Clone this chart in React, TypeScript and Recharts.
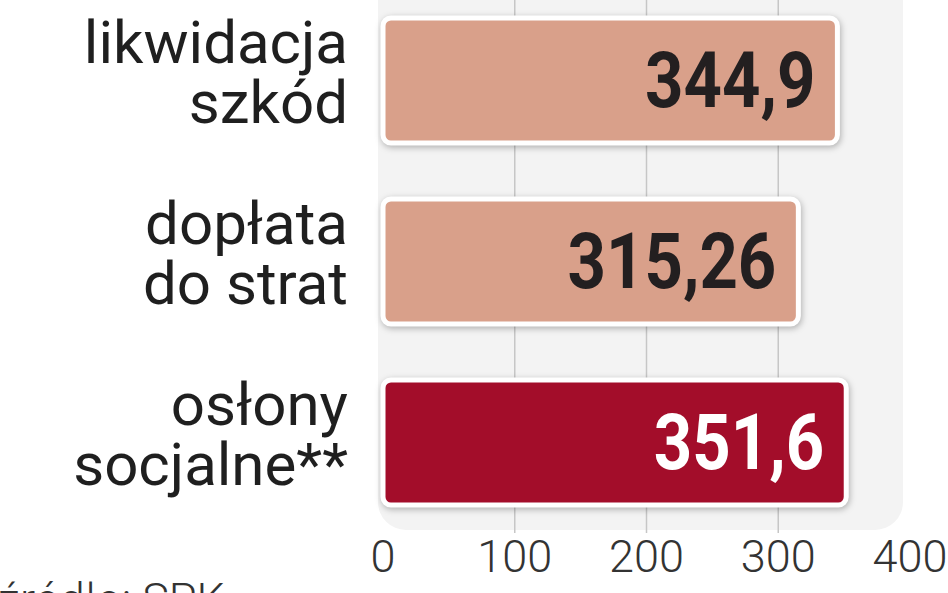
import React from 'react';
import { BarChart, Bar, XAxis, YAxis, CartesianGrid, Cell, LabelList, Rectangle } from 'recharts';

const categories = ['likwidacja|szkód', 'dopłata|do strat', 'osłony|socjalne**'];
const values = [344.9, 315.26, 351.6];
const valueLabels = ['344,9', '315,26', '351,6'];
const barColors = ['#d9a08a', '#d9a08a', '#a30d2a'];
const labelColors = ['#231f20', '#231f20', '#ffffff'];
const xTicks = [0, 100, 200, 300, 400];
const gridValues = [100, 200, 300];
const sourceText = 'źródło: SPK';

const data = categories.map((c, i) => ({ name: c, value: values[i], label: valueLabels[i] }));

const CategoryTick = (props: any) => {
  const { x, y, payload } = props;
  const lines = String(payload.value).split('|');
  return (
    <text x={x} y={y} textAnchor="end" fontFamily="Roboto" fontSize={60} fill="#1f1f1f">
      {lines.map((l, i) => (
        <tspan key={i} x={x} y={y - 18 + i * 60}>{l}</tspan>
      ))}
    </text>
  );
};

const XTick = (props: any) => {
  const { x, y, payload } = props;
  return (
    <text x={x} y={y + 39} textAnchor="middle" fontFamily="Roboto" fontWeight={300} fontSize={45} fill="#333">
      {payload.value}
    </text>
  );
};

const ValueLabel = (props: any) => {
  const vb = props.viewBox && props.viewBox.width !== undefined ? props.viewBox : props;
  const { x, y, width, height } = vb;
  const idx = valueLabels.indexOf(String(props.value));
  const right = x + width - 22;
  const base = y + height / 2 + 26;
  return (
    <text
      transform={`translate(${right},${base}) scale(0.86,1)`}
      textAnchor="end"
      fontFamily="Roboto"
      fontWeight={700}
      fontSize={78}
      fill={labelColors[idx] || '#231f20'}
    >
      {props.value}
    </text>
  );
};

const BarShape = (props: any) => {
  const { x, y, width, height, index, fill } = props;
  return (
    <Rectangle
      x={x}
      y={y}
      width={width}
      height={height}
      fill={barColors[index] || fill}
      stroke="#ffffff"
      strokeWidth={5}
      radius={8}
      style={{ filter: 'drop-shadow(1px 2px 3px rgba(0,0,0,0.28))' }}
    />
  );
};

export default function App() {
  return (
    <div style={{ position: 'absolute', left: 0, top: 0, width: 948, height: 593, overflow: 'hidden', background: '#ffffff' }}>
      <div
        style={{
          position: 'absolute',
          left: 378,
          top: -40,
          width: 525,
          height: 570,
          background: '#f3f3f3',
          borderRadius: 28,
        }}
      />
      <div style={{ position: 'absolute', left: 0, top: -20 }}>
        <BarChart
          width={948}
          height={640}
          data={data}
          layout="vertical"
          margin={{ top: 10, right: 38, bottom: 27, left: 0 }}
          barSize={125}
        >
          <CartesianGrid
            horizontal={false}
            stroke="#c6c6c6"
            strokeWidth={1.5}
            verticalValues={gridValues}
          />
          <XAxis
            type="number"
            domain={[0, 400]}
            ticks={xTicks}
            axisLine={false}
            tickLine={false}
            tickSize={0}
            tickMargin={0}
            height={60}
            tick={<XTick />}
            interval={0}
          />
          <YAxis
            type="category"
            dataKey="name"
            width={383}
            axisLine={false}
            tickLine={false}
            tickSize={0}
            tickMargin={35}
            tick={<CategoryTick />}
            interval={0}
          />
          <Bar dataKey="value" isAnimationActive={false} shape={<BarShape />}>
            {data.map((d, i) => (
              <Cell key={i} fill={barColors[i]} />
            ))}
            <LabelList dataKey="label" content={<ValueLabel />} />
          </Bar>
        </BarChart>
      </div>
      <div
        style={{
          position: 'absolute',
          left: -2,
          top: 577,
          fontFamily: 'Roboto',
          fontWeight: 300,
          fontSize: 45,
          lineHeight: '45px',
          color: '#333',
          whiteSpace: 'nowrap',
        }}
      >
        {sourceText}
      </div>
    </div>
  );
}
